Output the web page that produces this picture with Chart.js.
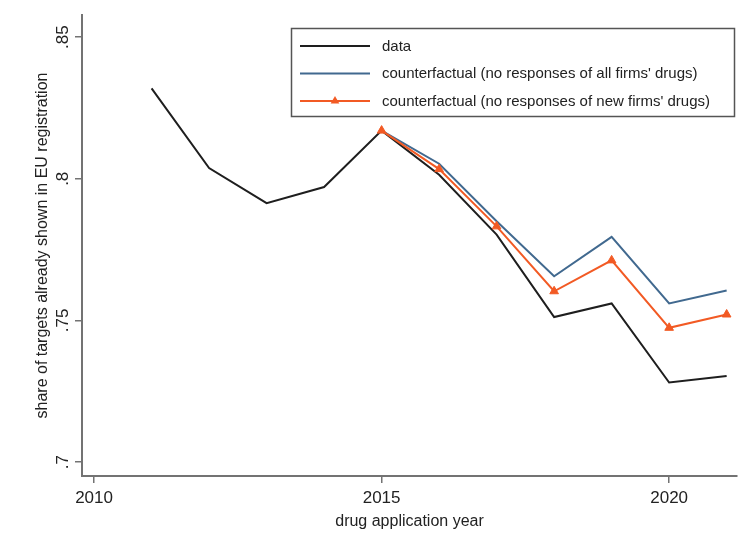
<!DOCTYPE html>
<html>
<head>
<meta charset="utf-8">
<script src="https://cdn.jsdelivr.net/npm/chart.js@4/dist/chart.umd.min.js"></script>
<style>
  html, body { margin: 0; padding: 0; background: #ffffff; }
  canvas { display: block; }
</style>
</head>
<body>
<canvas id="chart" width="743" height="547"></canvas>
<script>
// Share of targets already shown in EU registration, by drug application year
const years = [2011, 2012, 2013, 2014, 2015, 2016, 2017, 2018, 2019, 2020, 2021];
const observedShare = [0.8319, 0.8038, 0.7914, 0.7971, 0.8170, 0.8014, 0.7803, 0.7512, 0.7560, 0.7281, 0.7304];

const counterfactualYears = [2015, 2016, 2017, 2018, 2019, 2020, 2021];
const noResponseAllFirms = [0.8170, 0.8053, 0.7850, 0.7656, 0.7795, 0.7560, 0.7606];
const noResponseNewFirms = [0.8170, 0.8034, 0.7832, 0.7603, 0.7712, 0.7474, 0.7521];

const seriesLabels = [
  'data',
  "counterfactual (no responses of all firms' drugs)",
  "counterfactual (no responses of new firms' drugs)"
];

const xTickValues = [2010, 2015, 2020];
const xTickLabels = ['2010', '2015', '2020'];
const yTickValues = [0.70, 0.75, 0.80, 0.85];
const yTickLabels = ['.7', '.75', '.8', '.85'];

const FONT = 'Liberation Sans, Arial, Helvetica, sans-serif';
const TEXT = '#222222';
const AXIS = '#737373';

const toPoints = (xs, ys) => xs.map((x, i) => ({ x: x, y: ys[i] }));

// Draws a triangle marker the same way Chart.js draws pointStyle 'triangle'
function triangle(ctx, x, y, r) {
  let rad = 0;
  ctx.beginPath();
  ctx.moveTo(x + Math.sin(rad) * r, y - Math.cos(rad) * r);
  rad += 2 * Math.PI / 3;
  ctx.lineTo(x + Math.sin(rad) * r, y - Math.cos(rad) * r);
  rad += 2 * Math.PI / 3;
  ctx.lineTo(x + Math.sin(rad) * r, y - Math.cos(rad) * r);
  ctx.closePath();
  ctx.fill();
}

// Framed legend in the upper right of the plot region
const framedLegend = {
  id: 'framedLegend',
  afterDraw(chart) {
    const ctx = chart.ctx;
    const box = { left: 291.5, top: 28.5, width: 443, height: 88 };
    const rows = [46, 73.5, 101];
    ctx.save();
    ctx.fillStyle = '#ffffff';
    ctx.fillRect(box.left, box.top, box.width, box.height);
    ctx.strokeStyle = '#555555';
    ctx.lineWidth = 1.5;
    ctx.strokeRect(box.left, box.top, box.width, box.height);

    chart.data.datasets.forEach((ds, i) => {
      const y = rows[i];
      ctx.strokeStyle = ds.borderColor;
      ctx.lineWidth = ds.borderWidth;
      ctx.beginPath();
      ctx.moveTo(300, y);
      ctx.lineTo(370, y);
      ctx.stroke();
      if (ds.pointRadius > 0) {
        ctx.fillStyle = ds.pointBackgroundColor;
        triangle(ctx, 335, y, ds.pointRadius);
      }
      ctx.fillStyle = TEXT;
      ctx.font = '15px ' + FONT;
      ctx.textAlign = 'left';
      ctx.textBaseline = 'middle';
      ctx.fillText(ds.label, 382, y + 0.5);
    });
    ctx.restore();
  }
};

new Chart(document.getElementById('chart'), {
  type: 'line',
  data: {
    datasets: [
      {
        label: seriesLabels[0],
        data: toPoints(years, observedShare),
        borderColor: '#1e1e1e',
        borderWidth: 2,
        pointRadius: 0,
        tension: 0,
        order: 2
      },
      {
        label: seriesLabels[1],
        data: toPoints(counterfactualYears, noResponseAllFirms),
        borderColor: '#41698f',
        borderWidth: 2,
        pointRadius: 0,
        tension: 0,
        order: 1
      },
      {
        label: seriesLabels[2],
        data: toPoints(counterfactualYears, noResponseNewFirms),
        borderColor: '#f25a24',
        borderWidth: 2,
        pointStyle: 'triangle',
        pointRadius: 5,
        pointBackgroundColor: '#f25a24',
        pointBorderColor: '#f25a24',
        pointBorderWidth: 1,
        tension: 0,
        order: 0
      }
    ]
  },
  options: {
    responsive: false,
    animation: false,
    devicePixelRatio: 1,
    layout: { padding: { top: 15, right: 6, bottom: 0, left: 0 } },
    plugins: {
      legend: { display: false },
      tooltip: { enabled: false }
    },
    scales: {
      x: {
        type: 'linear',
        min: 2009.79,
        max: 2021.18,
        afterBuildTicks: (scale) => { scale.ticks = xTickValues.map(v => ({ value: v })); },
        afterFit: (scale) => { scale.height = 71; },
        grid: { drawOnChartArea: false, drawTicks: true, tickLength: 7, color: AXIS, lineWidth: 1.5 },
        border: { display: true, color: AXIS, width: 2 },
        ticks: {
          autoSkip: false,
          maxRotation: 0,
          padding: 5,
          color: TEXT,
          font: { family: FONT, size: 17 },
          callback: (v, i) => xTickLabels[i]
        },
        title: {
          display: true,
          text: 'drug application year',
          color: TEXT,
          font: { family: FONT, size: 16 },
          padding: { top: 0, bottom: 16 }
        }
      },
      y: {
        type: 'linear',
        min: 0.6951,
        max: 0.8578,
        afterBuildTicks: (scale) => { scale.ticks = yTickValues.map(v => ({ value: v })); },
        afterFit: (scale) => { scale.width = 82; },
        grid: { drawOnChartArea: false, drawTicks: true, tickLength: 7, color: AXIS, lineWidth: 1.5 },
        border: { display: true, color: AXIS, width: 2 },
        ticks: {
          autoSkip: false,
          minRotation: 90,
          maxRotation: 90,
          crossAlign: 'center',
          padding: 0,
          color: TEXT,
          font: { family: FONT, size: 17 },
          callback: (v, i) => yTickLabels[i]
        },
        title: {
          display: true,
          text: 'share of targets already shown in EU registration',
          color: TEXT,
          font: { family: FONT, size: 16 },
          padding: { top: 33, bottom: 0 }
        }
      }
    }
  },
  plugins: [framedLegend]
});
</script>
</body>
</html>
